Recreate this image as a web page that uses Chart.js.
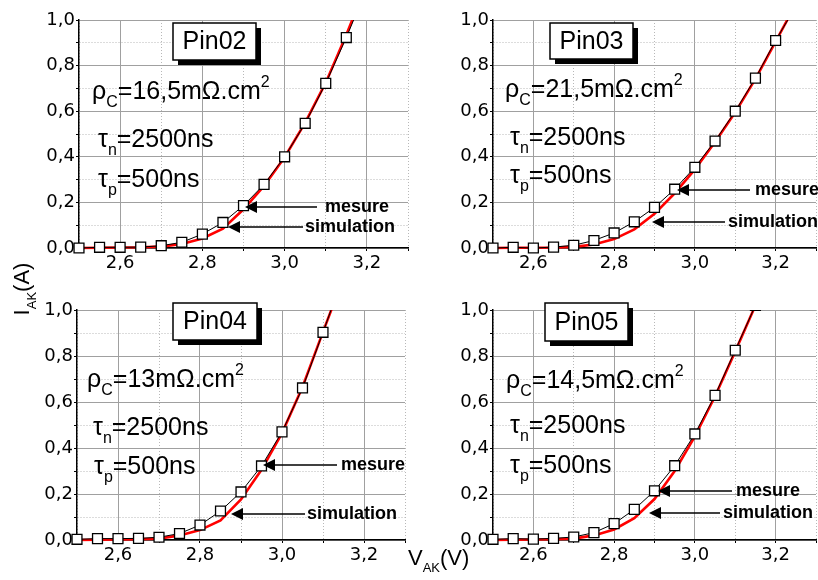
<!DOCTYPE html>
<html><head><meta charset="utf-8">
<script src="https://cdn.jsdelivr.net/npm/chart.js@4.4.0/dist/chart.umd.min.js"></script>
<style>
html,body{margin:0;padding:0;background:#fff;}
#wrap{position:relative;width:818px;height:580px;overflow:hidden;background:#fff;}
canvas{position:absolute;}
.lab{position:absolute;font-family:Arial,"Liberation Sans",sans-serif;color:#000;white-space:nowrap;font-size:22px;line-height:22px;}
.lab sub{font-size:13px;vertical-align:-7px;line-height:0;}
#ylab{left:-18px;top:278px;width:80px;height:22px;text-align:center;transform:rotate(-90deg);}
#xlab{left:408px;top:547px;}
</style></head>
<body><div id="wrap">
<canvas id="c1" width="410" height="290" style="left:0;top:0"></canvas>
<canvas id="c2" width="408" height="290" style="left:410px;top:0"></canvas>
<canvas id="c3" width="410" height="290" style="left:0;top:290px"></canvas>
<canvas id="c4" width="408" height="290" style="left:410px;top:290px"></canvas>
<div class="lab" id="ylab">I<sub>AK</sub>(A)</div>
<div class="lab" id="xlab">V<sub>AK</sub>(V)</div>
</div>
<script>
// ---- data ----
const voltage = [2.50, 2.55, 2.60, 2.65, 2.70, 2.75, 2.80, 2.85, 2.90, 2.95, 3.00, 3.05, 3.10, 3.15, 3.20, 3.25];

const mesurePin02     = [0.000, 0.003, 0.003, 0.004, 0.010, 0.025, 0.061, 0.112, 0.186, 0.279, 0.400, 0.547, 0.722, 0.923, 1.14];
const simulationPin02 = [0.000, 0.001, 0.002, 0.003, 0.006, 0.018, 0.042, 0.085, 0.170, 0.272, 0.398, 0.550, 0.725, 0.935, 1.16];

const mesurePin03     = [0.000, 0.003, 0.000, 0.004, 0.012, 0.033, 0.066, 0.115, 0.178, 0.258, 0.354, 0.469, 0.600, 0.745, 0.910, 1.06];
const simulationPin03 = [0.000, 0.001, 0.001, 0.002, 0.005, 0.015, 0.039, 0.082, 0.150, 0.240, 0.345, 0.465, 0.595, 0.742, 0.905, 1.07];

const mesurePin04     = [0.003, 0.006, 0.006, 0.007, 0.012, 0.028, 0.065, 0.126, 0.209, 0.322, 0.470, 0.661, 0.903, 1.15];
const simulationPin04 = [0.000, 0.001, 0.002, 0.003, 0.006, 0.020, 0.043, 0.085, 0.176, 0.305, 0.465, 0.665, 0.905, 1.14];

const mesurePin05     = [0.003, 0.006, 0.004, 0.007, 0.013, 0.032, 0.071, 0.133, 0.214, 0.323, 0.461, 0.629, 0.825, 1.02];
const simulationPin05 = [0.000, 0.001, 0.002, 0.003, 0.006, 0.020, 0.046, 0.095, 0.178, 0.300, 0.450, 0.625, 0.820, 1.02];

const panelNames = ['Pin02', 'Pin03', 'Pin04', 'Pin05'];
const rhoValues  = ['16,5', '21,5', '13', '14,5'];
const tauNValue  = '2500';
const tauPValue  = '500';
const seriesNames = ['mesure', 'simulation'];

const xTickValues = [2.5, 2.6, 2.7, 2.8, 2.9, 3.0, 3.1, 3.2, 3.3];
const xTickLabels = ['', '2,6', '', '2,8', '', '3,0', '', '3,2', ''];
const yTickValues = [0, 0.1, 0.2, 0.3, 0.4, 0.5, 0.6, 0.7, 0.8, 0.9, 1.0];
const yTickLabels = ['0,0', '', '0,2', '', '0,4', '', '0,6', '', '0,8', '', '1,0'];

// ---- layout / styles ----
const FONT = 'Arial, "Liberation Sans", sans-serif';
const TICKFONT = '"DejaVu Sans", sans-serif';
const panels = [
  {id:'c1', mes:mesurePin02, sim:simulationPin02, yW:79, xH:42, padR:1,
   box:[173,23,83,37], rho:[92,99], tn:[98,147], tp:[98,187],
   am:{tip:245,end:317,tx:325,y:207}, as:{tip:228,end:303,tx:305,y:227}},
  {id:'c2', mes:mesurePin03, sim:simulationPin03, yW:83, xH:42, padR:0,
   box:[140,23,83,36], rho:[95,97], tn:[100,145], tp:[100,183],
   am:{tip:267,end:340,tx:345,y:190}, as:{tip:242,end:315,tx:318,y:222}},
  {id:'c3', mes:mesurePin04, sim:simulationPin04, yW:77, xH:40, padR:5,
   box:[173,13,84,37], rho:[87,97], tn:[93,145], tp:[94,184],
   am:{tip:263,end:337,tx:341,y:175}, as:{tip:231,end:305,tx:307,y:224}},
  {id:'c4', mes:mesurePin05, sim:simulationPin05, yW:83, xH:40, padR:0,
   box:[135,13,83,38], rho:[96,98], tn:[100,143], tp:[100,183],
   am:{tip:248,end:322,tx:326,y:201}, as:{tip:239,end:310,tx:313,y:223}}
];

function rich(ctx, x, y, parts) {
  ctx.textAlign = 'left'; ctx.textBaseline = 'alphabetic';
  for (const [t, size, dy] of parts) {
    ctx.font = size + 'px ' + FONT;
    ctx.fillText(t, x, y + dy);
    x += ctx.measureText(t).width;
  }
}
function arrow(ctx, a, label) {
  ctx.strokeStyle = '#000'; ctx.fillStyle = '#000'; ctx.lineWidth = 1.5;
  ctx.beginPath(); ctx.moveTo(a.tip + 10, a.y); ctx.lineTo(a.end, a.y); ctx.stroke();
  ctx.beginPath(); ctx.moveTo(a.tip, a.y); ctx.lineTo(a.tip + 12, a.y - 6); ctx.lineTo(a.tip + 12, a.y + 6); ctx.closePath(); ctx.fill();
  ctx.font = 'bold 18px ' + FONT; ctx.textAlign = 'left'; ctx.textBaseline = 'middle';
  ctx.fillText(label, a.tx, a.y);
}
function annotPlugin(p, i) {
  return {
    id: 'annot' + i,
    afterDatasetsDraw(chart) {
      const ctx = chart.ctx;
      ctx.save();
      const [bx, by, bw, bh] = p.box;
      ctx.fillStyle = '#000'; ctx.fillRect(bx + 5, by + 5, bw, bh);
      ctx.fillStyle = '#fff'; ctx.fillRect(bx, by, bw, bh);
      ctx.strokeStyle = '#000'; ctx.lineWidth = 1.5; ctx.strokeRect(bx, by, bw, bh);
      ctx.fillStyle = '#000'; ctx.font = '25px ' + FONT; ctx.textAlign = 'center'; ctx.textBaseline = 'middle';
      ctx.fillText(panelNames[i], bx + bw / 2, by + bh / 2 + 1);
      rich(ctx, p.rho[0], p.rho[1], [['ρ',25,0],['C',16,8],['=' + rhoValues[i] + 'mΩ.cm',25,0],['2',16,-12]]);
      rich(ctx, p.tn[0], p.tn[1], [['τ',25,0],['n',16,8],['=' + tauNValue + 'ns',25,0]]);
      rich(ctx, p.tp[0], p.tp[1], [['τ',25,0],['p',16,8],['=' + tauPValue + 'ns',25,0]]);
      arrow(ctx, p.am, seriesNames[0]);
      arrow(ctx, p.as, seriesNames[1]);
      ctx.restore();
    }
  };
}

const majorCol = '#a0a0a0', minorCol = '#b8b8b8';
function gridOpts(labels) {
  return {
    color: c => (c.type === 'tick' && labels[c.index] === '') ? minorCol : majorCol,
    lineWidth: 1, drawTicks: true, tickLength: 3, tickColor: '#000', tickWidth: 1
  };
}
function borderOpts(labels) {
  return { display: true, color: '#000', width: 1.5,
    dash: c => (c.type === 'tick' && labels[c.index] === '') ? [1, 2] : [] };
}

panels.forEach((p, i) => {
  const mesPts = p.mes.map((v, k) => ({x: voltage[k], y: v}));
  const simPts = p.sim.map((v, k) => ({x: voltage[k], y: v}));
  new Chart(document.getElementById(p.id), {
    type: 'scatter',
    data: { datasets: [
      { label: seriesNames[0], data: mesPts, showLine: true, borderColor: '#000', borderWidth: 1,
        pointStyle: 'rect', pointRadius: 7, pointBackgroundColor: '#fff', pointBorderColor: '#000',
        pointBorderWidth: 1.3, clip: {left: 10, right: 10, top: 0, bottom: 10}, order: 0 },
      { label: seriesNames[1], data: simPts, showLine: true, borderColor: '#ff0000', borderWidth: 2.6,
        pointRadius: 0, clip: {left: 0, right: 0, top: 0, bottom: 2}, order: 1 }
    ]},
    options: {
      responsive: false, animation: false, devicePixelRatio: 1,
      layout: { autoPadding: false, padding: {top: 20, right: p.padR, left: 0, bottom: 0} },
      plugins: { legend: {display: false}, tooltip: {enabled: false} },
      scales: {
        x: { type: 'linear', min: 2.5, max: 3.3,
          afterBuildTicks: s => { s.ticks = xTickValues.map(v => ({value: v})); },
          afterFit: s => { s.height = p.xH; },
          ticks: { autoSkip: false, maxRotation: 0, padding: 2, color: '#000',
            font: {family: TICKFONT, size: 18}, callback: (v, k) => xTickLabels[k] },
          grid: gridOpts(xTickLabels), border: borderOpts(xTickLabels) },
        y: { type: 'linear', min: 0, max: 1.0,
          afterBuildTicks: s => { s.ticks = yTickValues.map(v => ({value: v})); },
          afterFit: s => { s.width = p.yW; },
          ticks: { autoSkip: false, padding: 1, color: '#000',
            font: {family: TICKFONT, size: 18}, callback: (v, k) => yTickLabels[k] },
          grid: gridOpts(yTickLabels), border: borderOpts(yTickLabels) }
      }
    },
    plugins: [annotPlugin(p, i)]
  });
});
</script>
</body></html>
